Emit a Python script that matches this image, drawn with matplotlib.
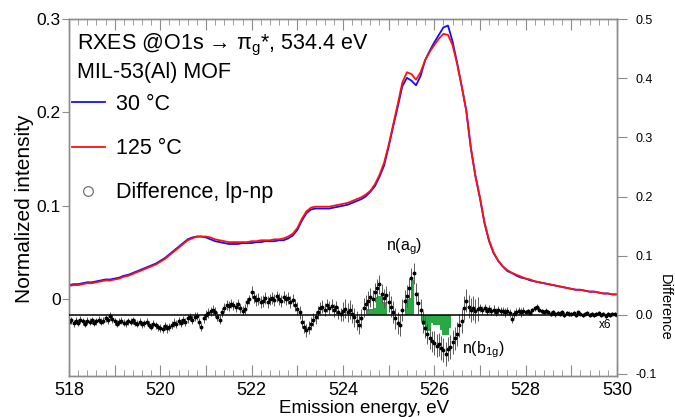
import numpy as np
import matplotlib
matplotlib.use('Agg')
from matplotlib import pyplot as plt
from matplotlib.lines import Line2D

plt.rcParams['font.family'] = ['Liberation Sans', 'DejaVu Sans']
plt.rcParams['mathtext.fontset'] = 'custom'
plt.rcParams['mathtext.rm'] = 'Liberation Sans'
plt.rcParams['mathtext.it'] = 'Liberation Sans:italic'

# RXES spectra, 0.1 eV grid from 518 to 530 eV
energy = np.linspace(518, 530, 121)

spec_30C = [
    .015, .016, .016, .017, .018, .018, .019, .020, .021, .021,
    .022, .023, .025, .026, .028, .030, .032, .034, .036, .038,
    .041, .044, .048, .052, .056, .060, .064, .066, .067, .067,
    .066, .064, .062, .061, .060, .059, .059, .059, .060, .060,
    .060, .061, .061, .062, .062, .062, .063, .063, .065, .068,
    .074, .084, .092, .096, .097, .097, .097, .097, .098, .099,
    .100, .101, .103, .105, .107, .110, .115, .121, .131, .143,
    .163, .185, .206, .228, .237, .234, .229, .239, .256, .266,
    .275, .283, .291, .293, .276, .253, .228, .202, .162, .132,
    .108, .081, .062, .049, .041, .035, .030, .028, .025, .023,
    .022, .020, .019, .018, .017, .016, .015, .014, .013, .012,
    .011, .010, .010, .009, .008, .008, .007, .006, .006, .005,
    .005]

spec_125C = [
    .014, .015, .015, .016, .017, .017, .018, .019, .020, .020,
    .021, .022, .024, .025, .027, .029, .031, .033, .035, .037,
    .040, .043, .047, .051, .055, .059, .063, .065, .067, .067,
    .067, .066, .064, .063, .062, .061, .061, .061, .061, .061,
    .062, .062, .063, .063, .063, .064, .064, .065, .067, .070,
    .076, .086, .094, .098, .099, .099, .099, .099, .100, .101,
    .102, .103, .105, .107, .109, .112, .116, .123, .133, .146,
    .165, .187, .209, .232, .243, .241, .235, .243, .256, .265,
    .272, .279, .284, .283, .272, .252, .228, .202, .162, .132,
    .109, .082, .063, .050, .041, .035, .031, .028, .026, .024,
    .022, .021, .019, .018, .017, .016, .015, .014, .013, .012,
    .011, .010, .010, .009, .008, .008, .007, .006, .006, .005,
    .005]

# difference lp-np (x6), 0.05 eV grid
diff_energy = np.linspace(518, 530, 241)
diff_values = [
    -0.012, -0.009, -0.014, -0.010, -0.013, -0.008, -0.011, -0.015, -0.010, -0.012,
    -0.009, -0.013, -0.011, -0.008, -0.012, -0.010, -0.006, -0.009, -0.002, -0.007,
    -0.011, -0.015, -0.012, -0.010, -0.013, -0.014, -0.011, -0.012, -0.009, -0.013,
    -0.015, -0.012, -0.016, -0.014, -0.012, -0.017, -0.020, -0.015, -0.018, -0.021,
    -0.022, -0.024, -0.019, -0.023, -0.020, -0.017, -0.013, -0.016, -0.011, -0.014,
    -0.009, -0.012, -0.006, -0.004, -0.008, -0.003, -0.002, -0.012, -0.020, -0.006,
    0.000, 0.003, 0.006, 0.008, 0.005, -0.003, -0.008, 0.004, 0.012, 0.017,
    0.015, 0.019, 0.016, 0.013, 0.018, 0.011, 0.007, 0.010, 0.021, 0.026,
    0.038, 0.030, 0.025, 0.027, 0.022, 0.024, 0.028, 0.021, 0.026, 0.029,
    0.025, 0.031, 0.027, 0.024, 0.030, 0.026, 0.028, 0.022, 0.025, 0.017,
    0.010, 0.004, -0.012, -0.020, -0.026, -0.022, -0.015, -0.008, -0.004, 0.004,
    0.011, 0.014, 0.009, 0.016, 0.012, 0.015, 0.008, 0.013, 0.004, 0.001,
    0.006, 0.010, 0.004, 0.009, 0.002, -0.004, -0.010, -0.017, -0.006, 0.012,
    0.018, 0.024, 0.030, 0.026, 0.038, 0.045, 0.052, 0.036, 0.028, 0.033,
    0.022, 0.014, 0.005, -0.006, -0.014, -0.018, 0.008, 0.024, 0.032, 0.045,
    0.062, 0.070, 0.036, 0.020, 0.008, -0.012, -0.022, -0.032, -0.040, -0.045,
    -0.048, -0.052, -0.050, -0.056, -0.060, -0.066, -0.058, -0.054, -0.046, -0.040,
    -0.032, -0.018, -0.010, 0.012, 0.024, 0.014, 0.008, 0.011, 0.006, 0.010,
    0.012, 0.008, 0.011, 0.007, 0.010, 0.006, 0.009, 0.005, 0.008, 0.006,
    0.007, 0.004, 0.006, 0.003, -0.007, 0.001, 0.005, 0.006, 0.004, 0.007,
    0.005, 0.006, 0.003, 0.008, 0.011, 0.014, 0.009, 0.006, 0.004, 0.007,
    0.005, 0.002, 0.004, 0.001, 0.003, 0.002, 0.004, 0.000, 0.003, 0.002,
    0.001, 0.003, 0.000, 0.004, 0.002, -0.001, 0.002, 0.003, 0.000, 0.002,
    -0.001, 0.001, 0.003, 0.000, 0.002, -0.002, 0.001, 0.000, 0.002, 0.001,
    0.000]
# error bar size per 1 eV block (518-519, 519-520, ...), last point 530
err_per_ev = [0.006, 0.006, 0.007, 0.008, 0.010, 0.011, 0.016, 0.018, 0.020, 0.007, 0.004, 0.003]
diff_err = np.append(np.repeat(err_per_ev, 20), 0.003)

# smoothed difference (green bars)
bar_x = [524.55, 524.60, 524.65, 524.70, 524.75, 524.80, 524.85, 524.90, 524.95,
         525.375, 525.425, 525.475, 525.525,
         525.75, 525.80, 525.85, 525.90, 525.95, 526.00, 526.05, 526.10,
         526.15, 526.20, 526.25, 526.30, 526.35]
bar_y = [0.010, 0.010, 0.010, 0.011, 0.030, 0.031, 0.031, 0.022, 0.022,
         0.027, 0.027, 0.028, 0.059,
         -0.017, -0.017, -0.028, -0.028, -0.013, -0.017, -0.017, -0.017,
         -0.025, -0.034, -0.034, -0.034, -0.022]

x_ticks = np.arange(518, 531, 1)
x_labels = [str(t) if t % 2 == 0 else '' for t in x_ticks]
left_ticks = [0, 0.1, 0.2, 0.3]
left_labels = ['0', '0.1', '0.2', '0.3']
right_ticks = [-0.1, 0.0, 0.1, 0.2, 0.3, 0.4, 0.5]

spine_col = '#8c8c8c'

fig = plt.figure(figsize=(6.75, 4.17), dpi=100)
ax = fig.add_axes([0.1022, 0.0983, 0.8118, 0.8561])
ax2 = ax.twinx()

ax.plot(energy, spec_30C, color='#1010ff', lw=1.3)
ax.plot(energy, spec_125C, color='#ff1010', lw=1.3)

ax2.bar(bar_x, bar_y, width=0.05, color='#2aa845', linewidth=0, zorder=1)
ax2.errorbar(diff_energy, diff_values, yerr=diff_err, fmt='o', ms=1.8, color='black',
             ecolor='0.35', elinewidth=0.7, capsize=0, zorder=2)
ax2.axhline(0, color='black', lw=1.1, zorder=3)

ax.set_xlim(518, 530)
ax.set_ylim(-0.0824, 0.3)
ax2.set_ylim(-0.1034, 0.5)

ax.set_xticks(x_ticks)
ax.set_xticklabels(x_labels)
ax.set_xticks(np.arange(518, 530.01, 0.2), minor=True)
ax.set_yticks(left_ticks)
ax.set_yticklabels(left_labels)
ax2.set_yticks(right_ticks)
ax2.set_yticklabels(['%.1f' % t for t in right_ticks])

ax.tick_params(axis='x', which='both', direction='in', top=True, color=spine_col,
               labelsize=13, pad=4.5)
ax.tick_params(axis='x', which='major', length=8)
ax.tick_params(axis='x', which='minor', length=4)
ax.tick_params(axis='y', direction='out', length=5, pad=1, color=spine_col, labelsize=12.5)
ax2.tick_params(axis='y', direction='out', length=7, pad=6, color=spine_col, labelsize=9)

for a in (ax, ax2):
    for s in a.spines.values():
        s.set_color(spine_col)
        s.set_linewidth(1.0)

# axis titles
fig.text(0.54, 0.0, 'Emission energy, eV', fontsize=13.5, ha='center', va='bottom')
ax.set_ylabel('Normalized intensity', fontsize=15)
ax.yaxis.set_label_coords(-0.064, 0.468)
ax2.text(1.088, 0.193, 'Difference', transform=ax2.transAxes, fontsize=10.5,
         rotation=270, ha='center', va='center')

# header text and legend
ax.text(0.014, 0.928, 'RXES @O1s \u2192 \u03c0$_\\mathrm{g}$*, 534.4 eV', transform=ax.transAxes,
        fontsize=15.5, va='center', ha='left')
ax.text(0.014, 0.849, 'MIL-53(Al) MOF', transform=ax.transAxes,
        fontsize=15.5, va='center', ha='left')

handles = [Line2D([], [], color='#1010ff', lw=1.3),
           Line2D([], [], color='#ff1010', lw=1.3),
           Line2D([], [], ls='none', marker='o', ms=7, mfc='white', mec='0.45', mew=0.9)]
ax.legend(handles, ['30 \u00b0C', '125 \u00b0C', 'Difference, lp-np'],
          loc='upper left', bbox_to_anchor=(0.006, 0.79), frameon=False,
          fontsize=15.5, handlelength=1.5, handletextpad=0.55, labelspacing=1.08,
          borderpad=0, borderaxespad=0)

ax2.text(525.35, 0.115, 'n(a$_\\mathrm{g}$)', fontsize=11.5, ha='center', va='center')
ax2.text(527.08, -0.059, 'n(b$_\\mathrm{1g}$)', fontsize=11.5, ha='center', va='center')
ax2.text(529.73, -0.017, 'x6', fontsize=8.5, ha='center', va='center')

fig.savefig('out.png', dpi=100)
